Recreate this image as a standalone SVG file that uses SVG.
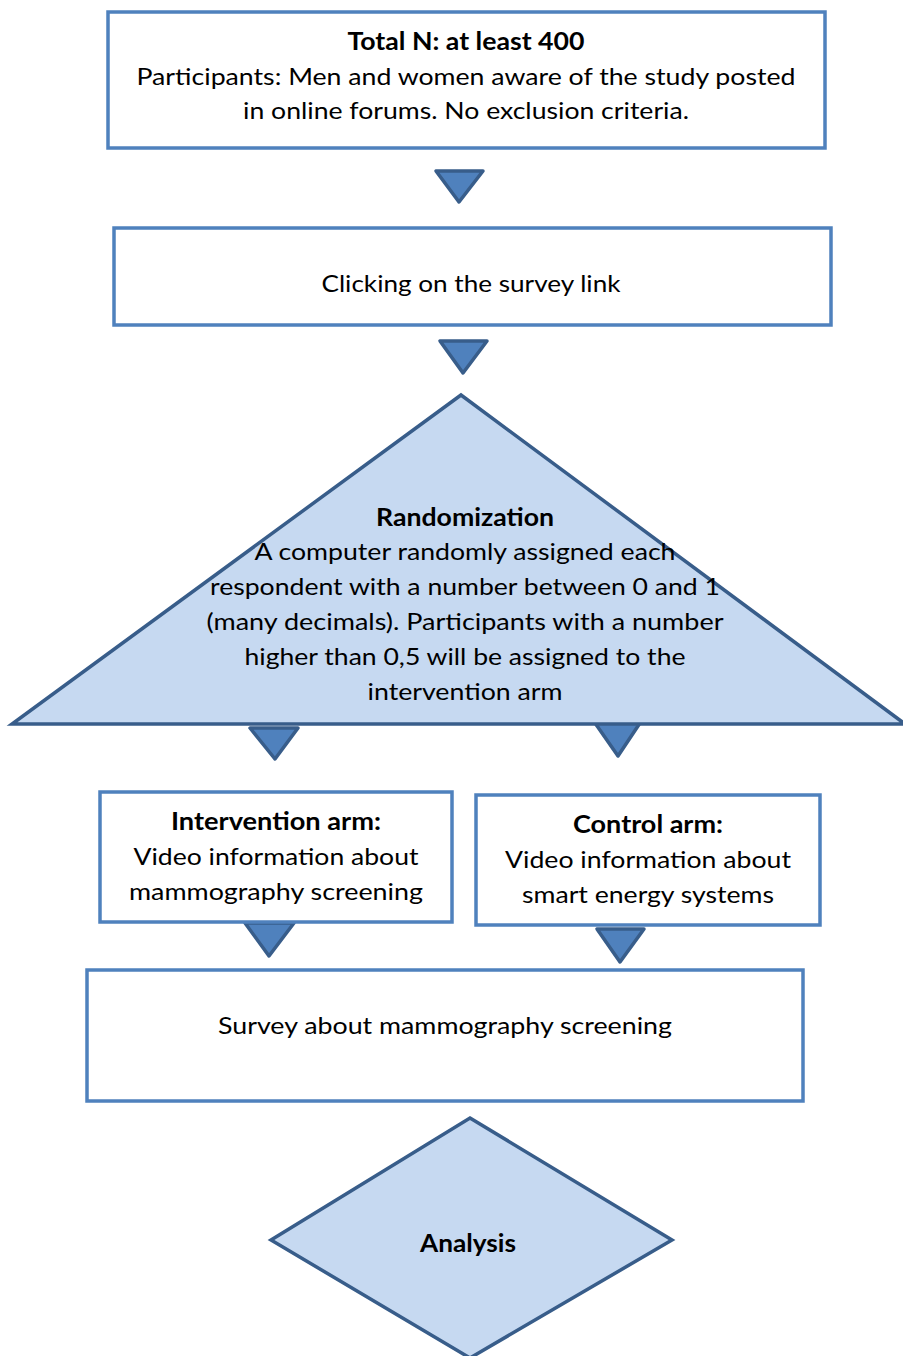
<svg xmlns="http://www.w3.org/2000/svg" width="903" height="1356" viewBox="0 0 903 1356">
<style>
.box{fill:#fff;stroke:#4F81BD;stroke-width:3.5}
.shape{fill:#C6D9F1;stroke:#385D8A;stroke-width:3.5;stroke-linejoin:miter}
.arr{fill:#4F81BD;stroke:#385D8A;stroke-width:3.5;stroke-linejoin:round}
text{font-family:Lato,"Open Sans","Liberation Sans",sans-serif;font-size:24px;fill:#000;text-anchor:middle}
.b{font-weight:bold}
</style>
<rect width="903" height="1356" fill="#fff"/>
<g id="connectors">
<polygon class="arr" points="436,171 483,171 459,202"/>
<polygon class="arr" points="440,341 487,341 463,373"/>
<polygon class="arr" points="250,728 298,728 275,759"/>
<polygon class="arr" points="595,723 640,723 618,756"/>
<polygon class="arr" points="245,923 294,923 269,956"/>
<polygon class="arr" points="597,929 644,929 620,962"/>
</g>
<g id="n1">
<rect class="box" x="108" y="12" width="717" height="136"/>
<text class="b" x="466" y="50" textLength="237" lengthAdjust="spacingAndGlyphs">Total N: at least 400</text>
<text x="466" y="85" textLength="659" lengthAdjust="spacingAndGlyphs">Participants: Men and women aware of the study posted</text>
<text x="466" y="119" textLength="446" lengthAdjust="spacingAndGlyphs">in online forums. No exclusion criteria.</text>
</g>
<g id="n2">
<rect class="box" x="114" y="228" width="717" height="97"/>
<text x="471" y="292" textLength="299" lengthAdjust="spacingAndGlyphs">Clicking on the survey link</text>
</g>
<g id="n3">
<polygon class="shape" points="461,395 12,724 905,724"/>
<text class="b" x="465" y="526" textLength="178" lengthAdjust="spacingAndGlyphs">Randomization</text>
<text x="465" y="560" textLength="421" lengthAdjust="spacingAndGlyphs">A computer randomly assigned each</text>
<text x="465" y="595" textLength="510" lengthAdjust="spacingAndGlyphs">respondent with a number between 0 and 1</text>
<text x="465" y="630" textLength="517" lengthAdjust="spacingAndGlyphs">(many decimals). Participants with a number</text>
<text x="465" y="665" textLength="441" lengthAdjust="spacingAndGlyphs">higher than 0,5 will be assigned to the</text>
<text x="465" y="700" textLength="195" lengthAdjust="spacingAndGlyphs">intervention arm</text>
</g>
<g id="n4">
<rect class="box" x="100" y="792" width="352" height="130"/>
<text class="b" x="276" y="830" textLength="210" lengthAdjust="spacingAndGlyphs">Intervention arm:</text>
<text x="276" y="865" textLength="285" lengthAdjust="spacingAndGlyphs">Video information about</text>
<text x="276" y="900" textLength="294" lengthAdjust="spacingAndGlyphs">mammography screening</text>
</g>
<g id="n5">
<rect class="box" x="476" y="795" width="344" height="130"/>
<text class="b" x="648" y="833" textLength="150" lengthAdjust="spacingAndGlyphs">Control arm:</text>
<text x="648" y="868" textLength="286" lengthAdjust="spacingAndGlyphs">Video information about</text>
<text x="648" y="903" textLength="252" lengthAdjust="spacingAndGlyphs">smart energy systems</text>
</g>
<g id="n6">
<rect class="box" x="87" y="970" width="716" height="131"/>
<text x="445" y="1034" textLength="454" lengthAdjust="spacingAndGlyphs">Survey about mammography screening</text>
</g>
<g id="n7">
<polygon class="shape" points="470,1118 672,1240 470,1358 271,1240"/>
<text class="b" x="468" y="1252" textLength="96" lengthAdjust="spacingAndGlyphs">Analysis</text>
</g>
</svg>
